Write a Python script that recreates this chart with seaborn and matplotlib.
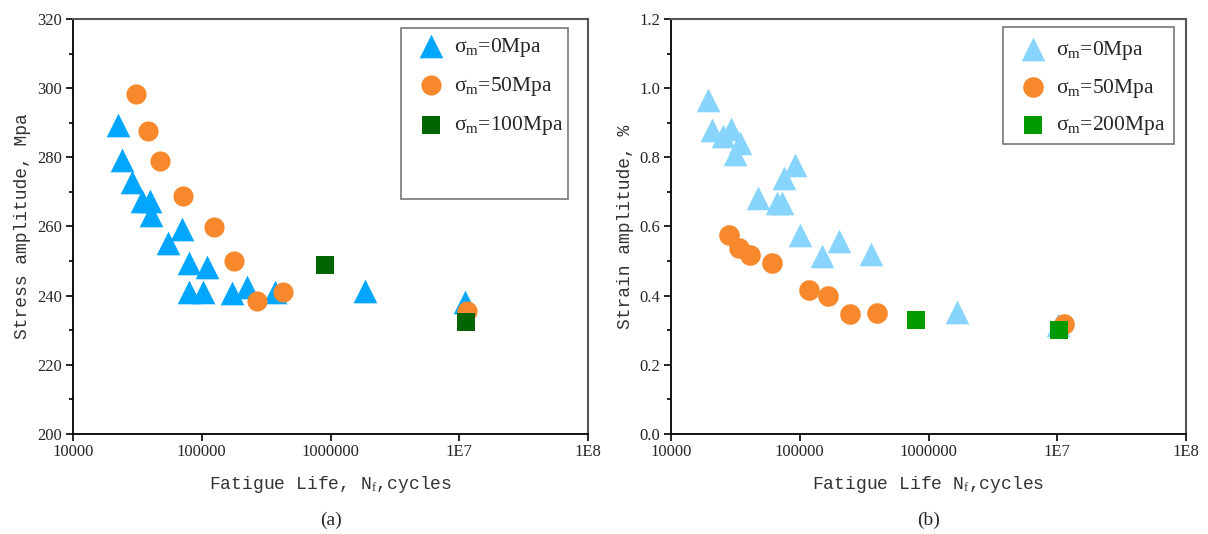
import matplotlib
matplotlib.use("Agg")
import numpy as np
import pandas as pd
import seaborn as sns
import matplotlib.pyplot as plt
from matplotlib.patches import Rectangle
from matplotlib.ticker import FixedLocator, MultipleLocator, NullLocator, FixedFormatter, FormatStrFormatter

# ---------------- data (a) ----------------
a_n0 = [22300, 24000, 28700, 34400, 39600, 40300, 54700, 70300, 79500, 110000,
        79500, 102000, 172000, 224000, 370000, 1.86e6, 1.1e7]
a_s0 = [289.3, 279.2, 272.8, 267.5, 267.5, 263.3, 255.1, 259.2, 249.3, 248.2,
        241.0, 241.0, 240.7, 242.5, 241.0, 241.3, 238.1]
a_n50 = [30900, 38300, 47400, 71500, 124000, 178000, 268000, 428000, 1.15e7]
a_s50 = [298.3, 287.6, 279.0, 268.8, 259.9, 250.0, 238.5, 241.0, 235.6]
a_n100 = [906000, 1.13e7]
a_s100 = [248.9, 232.4]

# ---------------- data (b) ----------------
b_n0 = [19400, 20900, 25300, 29300, 34400, 31400, 91900, 75500, 47400, 66600,
        72600, 100000, 148000, 201000, 357000, 1.66e6, 1.01e7]
b_e0 = [0.966, 0.879, 0.862, 0.882, 0.842, 0.81, 0.778, 0.74, 0.682, 0.668,
        0.668, 0.575, 0.515, 0.558, 0.52, 0.353, 0.315]
b_n50 = [28200, 33700, 41100, 61000, 118000, 166000, 246000, 398000, 1.13e7]
b_e50 = [0.575, 0.538, 0.518, 0.494, 0.416, 0.40, 0.347, 0.35, 0.318]
b_n200 = [797000, 1.03e7]
b_e200 = [0.33, 0.30]

x_ticks = [1e4, 1e5, 1e6, 1e7, 1e8]
x_ticklabels = ["10000", "100000", "1000000", "1E7", "1E8"]

a_labels = [r"$\mathrm{\sigma_m}$=0Mpa", r"$\mathrm{\sigma_m}$=50Mpa", r"$\mathrm{\sigma_m}$=100Mpa"]
b_labels = [r"$\mathrm{\sigma_m}$=0Mpa", r"$\mathrm{\sigma_m}$=50Mpa", r"$\mathrm{\sigma_m}$=200Mpa"]

sns.set_style("ticks")
plt.rcParams["font.family"] = ["Liberation Serif", "DejaVu Serif"]
plt.rcParams["mathtext.fontset"] = "custom"
plt.rcParams["mathtext.rm"] = "Liberation Serif"
plt.rcParams["mathtext.it"] = "Liberation Serif:italic"

fig = plt.figure(figsize=(12.08, 5.34), dpi=100)
axA = fig.add_axes([0.0604, 0.1873, 0.4264, 0.7771])
axB = fig.add_axes([0.5555, 0.1873, 0.4263, 0.7771])


def style_axes(ax):
    ax.set_xscale("log")
    ax.set_xlim(1e4, 1e8)
    ax.xaxis.set_major_locator(FixedLocator(x_ticks))
    ax.xaxis.set_major_formatter(FixedFormatter(x_ticklabels))
    ax.xaxis.set_minor_locator(NullLocator())
    ax.tick_params(which="major", direction="out", length=5, width=1.2,
                   labelsize=12, color="black", pad=3)
    ax.tick_params(axis="x", which="major", pad=2)
    ax.tick_params(which="minor", direction="out", length=3, width=1.2, color="black")
    ax.tick_params(axis="x", which="both", top=False)
    ax.tick_params(axis="y", which="both", right=False)
    for side in ["left", "bottom"]:
        ax.spines[side].set_color("black")
        ax.spines[side].set_linewidth(1.3)
    for side in ["top", "right"]:
        ax.spines[side].set_visible(True)
        ax.spines[side].set_color("#555555")
        ax.spines[side].set_linewidth(1.5)
    for lab in ax.get_xticklabels() + ax.get_yticklabels():
        lab.set_fontfamily("Liberation Serif")


# ---------- panel (a) ----------
sns.scatterplot(x=a_n0, y=a_s0, marker="^", s=290, color="#00A6FF", linewidth=0, ax=axA, label=a_labels[0], zorder=3)
sns.scatterplot(x=a_n50, y=a_s50, marker="o", s=210, color="#F7882B", linewidth=0, ax=axA, label=a_labels[1], zorder=4)
sns.scatterplot(x=a_n100, y=a_s100, marker="s", s=170, color="#006400", linewidth=0, ax=axA, label=a_labels[2], zorder=5)
style_axes(axA)
axA.set_ylim(200, 320)
axA.yaxis.set_major_locator(MultipleLocator(20))
axA.yaxis.set_minor_locator(MultipleLocator(10))
axA.yaxis.set_major_formatter(FormatStrFormatter("%d"))
axA.set_xlabel(r"Fatigue Life, N$_\mathrm{f}$,cycles", fontfamily="Liberation Mono", fontsize=13, labelpad=10, color="#333333")
axA.set_ylabel("Stress amplitude, Mpa", fontfamily="Liberation Mono", fontsize=13, labelpad=4, color="#333333")

# ---------- panel (b) ----------
sns.scatterplot(x=b_n0, y=b_e0, marker="^", s=290, color="#87D5FF", linewidth=0, ax=axB, label=b_labels[0], zorder=3)
sns.scatterplot(x=b_n50, y=b_e50, marker="o", s=220, color="#F7882B", linewidth=0, ax=axB, label=b_labels[1], zorder=4)
sns.scatterplot(x=b_n200, y=b_e200, marker="s", s=170, color="#009900", linewidth=0, ax=axB, label=b_labels[2], zorder=5)
style_axes(axB)
axB.set_ylim(0.0, 1.2)
axB.yaxis.set_major_locator(MultipleLocator(0.2))
axB.yaxis.set_minor_locator(MultipleLocator(0.1))
axB.yaxis.set_major_formatter(FormatStrFormatter("%.1f"))
axB.set_xlabel(r"Fatigue Life N$_\mathrm{f}$,cycles", fontfamily="Liberation Mono", fontsize=13, labelpad=10, color="#333333")
axB.set_ylabel("Strain amplitude, %", fontfamily="Liberation Mono", fontsize=13, labelpad=4, color="#333333")

# ---------- legends ----------
def boxed_legend(ax, box, anchor, spacing):
    x0, y0, x1, y1 = box
    ax.add_patch(Rectangle((x0, y0), x1 - x0, y1 - y0, transform=ax.transAxes,
                           fill=False, edgecolor="#777777", linewidth=1.2, zorder=6))
    leg = ax.legend(loc="upper left", bbox_to_anchor=anchor,
                    frameon=False, fontsize=15.5, handletextpad=0.5, labelspacing=spacing,
                    borderpad=0.2, handlelength=1.2)
    return leg

boxed_legend(axA, (0.637, 0.566, 0.961, 0.978), (0.640, 0.996), 0.76)
boxed_legend(axB, (0.645, 0.699, 0.977, 0.981), (0.648, 0.988), 0.68)

# ---------- captions ----------
fig.text(0.2736, 0.026, "(a)", ha="center", va="center", fontsize=14, fontfamily="Liberation Serif")
fig.text(0.7687, 0.026, "(b)", ha="center", va="center", fontsize=14, fontfamily="Liberation Serif")

fig.savefig("out.png", dpi=100)
